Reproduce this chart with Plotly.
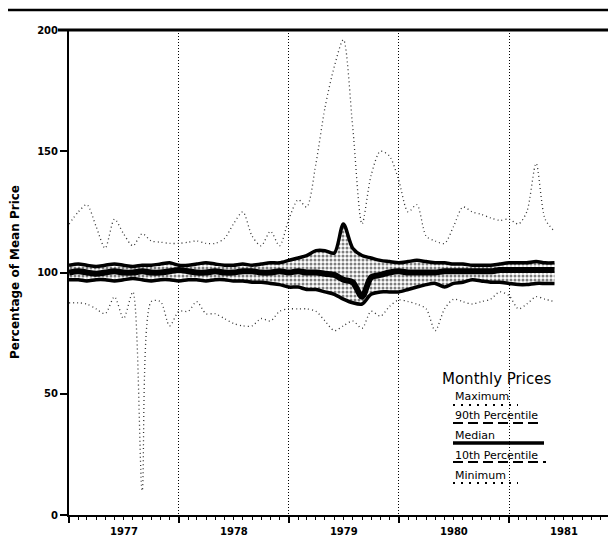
import pandas as pd
import plotly.graph_objects as go

months = pd.date_range("1977-01-01", periods=54, freq="MS")

maximum = [120, 125, 128, 119, 110, 122, 116, 111, 116, 113, 112.5, 112, 112, 112.5, 113, 112,
           112, 114, 120, 125, 115, 111, 117, 111, 122, 130, 127, 145, 168, 185, 196, 160,
           120, 140, 150, 148, 138, 125, 128, 115, 113, 112, 119, 127, 125, 124, 122.5, 121.5,
           122, 120, 125, 145, 122, 117]
p90 = [103, 103.5, 103, 102.5, 103, 103.5, 103, 102.5, 103, 103, 103.5, 104, 103, 103, 103.5, 104,
       103.5, 103, 103, 103.5, 103, 103.5, 104, 104, 105, 106, 107, 109, 109, 108, 120, 110,
       107, 106, 105, 104.5, 104, 104.5, 105, 104.5, 104, 104, 103.5, 103.5, 103, 103, 103, 103.5,
       104, 104, 104, 104.5, 104, 104]
median = [100, 100.5, 100, 99.5, 100, 100.5, 100, 100, 100.5, 100, 100, 100.5, 101, 100.5, 100, 100,
          100.5, 100, 100, 100.5, 100.5, 100, 100, 100.5, 100, 100.5, 100, 100, 99.5, 99, 97, 96,
          90, 98, 99, 100, 100.5, 100, 100, 100, 100, 100.5, 100.5, 100.5, 100.5, 100.5, 100.5, 101,
          101, 101, 101, 101, 101, 101]
p10 = [97, 97, 96.5, 97, 97, 96.5, 97, 97.5, 97, 96.5, 97, 97, 96.5, 97, 97, 96.5,
       97, 97, 96.5, 96.5, 96, 96, 95.5, 95, 94, 94, 93, 93, 92, 91, 89, 87.5,
       87, 91, 92, 92, 92, 93, 94, 95, 95.5, 94, 95.5, 96, 97, 96.5, 96, 96,
       95.5, 95, 95, 95.5, 95.5, 95.5]
minimum = [87.5, 87.5, 87, 85, 83, 90, 81, 92, 10, 88, 88, 78, 84, 84, 88, 83,
           83, 81, 79, 78, 78, 81, 80, 84, 85, 85, 85, 84, 80, 76, 78, 80,
           77, 84, 82, 86, 88.7, 88, 87, 85, 76, 85, 89, 88, 87, 88, 89, 92,
           90.5, 85, 87, 90, 89, 88]

y_ticks = [0, 50, 100, 150, 200]
legend_title = "Monthly Prices"
legend_items = ["Maximum", "90th Percentile", "Median", "10th Percentile", "Minimum"]

FONT = "DejaVu Sans"
W, H = 616, 546
OFF = 8  # page body margin
ML, MR, MT, MB = 61, 0, 22, 39
PW, PH = W - ML - MR, H - MT - MB
PX_PER_YEAR = 110.0
x_start = pd.Timestamp("1977-01-01")
x_end = x_start + pd.Timedelta(days=PW / PX_PER_YEAR * 365.25)


def px(x):
    return (x - OFF - ML) / PW


def py(y):
    return (H - MB - (y - OFF)) / PH


fig = go.Figure()
spl = dict(shape="spline", smoothing=0.8)

fig.add_trace(go.Scatter(x=months, y=maximum, mode="lines",
                         line=dict(color="#333", width=1.3, dash="1px,3px", **spl)))
fig.add_trace(go.Scatter(x=months, y=minimum, mode="lines",
                         line=dict(color="#333", width=1.3, dash="1px,3px", **spl)))
fig.add_trace(go.Scatter(x=months, y=p90, mode="lines",
                         line=dict(color="black", width=3.5, **spl)))
fig.add_trace(go.Scatter(x=months, y=p10, mode="lines", fill="tonexty",
                         fillcolor="white",
                         fillpattern=dict(shape=".", fgcolor="black", bgcolor="white",
                                          size=4, solidity=0.45),
                         line=dict(color="black", width=3.5, **spl)))
fig.add_trace(go.Scatter(x=months, y=median, mode="lines",
                         line=dict(color="black", width=6, **spl)))

# legend block
ann = [dict(text=legend_title, x=px(440), y=py(379), xref="paper", yref="paper",
            xanchor="left", yanchor="middle", showarrow=False,
            font=dict(family=FONT, size=15, color="black"))]
item_y = [396, 415, 435, 455, 475]
line_y = [405, 423, 443, 462, 483]
line_end = [518, 541, 544, 546, 518]
line_style = [("2px,6px", 2), ("10px,5px", 2), ("solid", 3.5), ("10px,5px", 2), ("2px,6px", 2)]
shapes = []
for name, ty, ly, le, (ds, lw) in zip(legend_items, item_y, line_y, line_end, line_style):
    ann.append(dict(text=name, x=px(453), y=py(ty), xref="paper", yref="paper",
                    xanchor="left", yanchor="middle", showarrow=False,
                    font=dict(family=FONT, size=11, color="black")))
    shapes.append(dict(type="line", xref="paper", yref="paper",
                       x0=px(453), x1=px(le), y0=py(ly), y1=py(ly),
                       line=dict(color="black", width=lw, dash=ds)))

ann.append(dict(text="<b>Percentage of Mean Price</b>", x=px(15), y=py(272),
                xref="paper", yref="paper", textangle=-90, showarrow=False,
                xanchor="center", yanchor="middle",
                font=dict(family=FONT, size=12, color="black")))

# frame lines (top border + scan line)
shapes.append(dict(type="line", xref="paper", yref="paper", x0=px(58), x1=1.02,
                   y0=1, y1=1, line=dict(color="black", width=3)))
shapes.append(dict(type="line", xref="paper", yref="paper", x0=px(0), x1=1.02,
                   y0=py(10), y1=py(10), line=dict(color="black", width=2.5)))

fig.update_layout(
    width=W, height=H,
    margin=dict(l=ML, r=MR, t=MT, b=MB, pad=0),
    paper_bgcolor="white", plot_bgcolor="white",
    showlegend=False,
    annotations=ann, shapes=shapes,
    xaxis=dict(type="date", range=[x_start, x_end],
               tick0="1977-01-01", dtick="M12", tickformat="%Y",
               ticklabelmode="period",
               showgrid=True, gridcolor="black", griddash="1px,2px", gridwidth=1,
               showline=True, linecolor="black", linewidth=2,
               ticks="outside", ticklen=6, tickwidth=1.5, tickcolor="black",
               minor=dict(dtick="M1", ticks="outside", ticklen=3, tickwidth=1,
                          tickcolor="black", showgrid=False),
               tickfont=dict(family=FONT, size=10, color="black", weight="bold"),
               zeroline=False),
    yaxis=dict(range=[0, 200], tickvals=y_ticks, showgrid=False, zeroline=False,
               showline=True, linecolor="black", linewidth=2,
               ticks="outside", ticklen=7, tickwidth=1.5, tickcolor="black",
               tickfont=dict(family=FONT, size=10, color="black", weight="bold")),
)

fig.write_html("out.html")
